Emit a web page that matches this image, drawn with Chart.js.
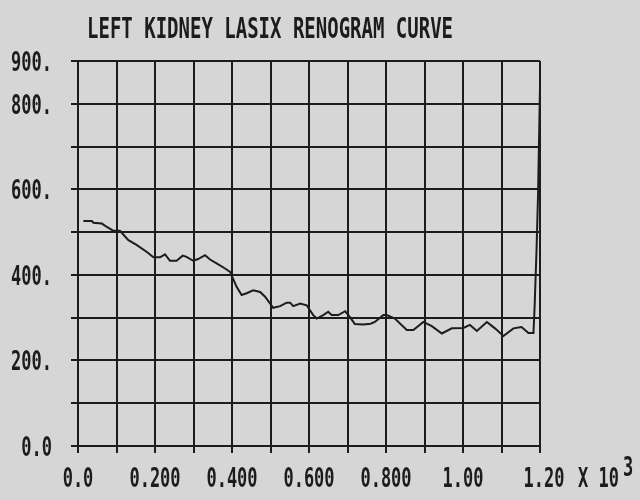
<!DOCTYPE html>
<html>
<head>
<meta charset="utf-8">
<script src="https://cdn.jsdelivr.net/npm/chart.js@4.4.1/dist/chart.umd.min.js"></script>
<style>
  html, body { margin: 0; padding: 0; background: #d6d6d6; }
  #wrap { width: 640px; height: 500px; position: relative; }
</style>
</head>
<body>
<div id="wrap"><canvas id="renogram"></canvas></div>
<script>
// time (s) and counts
const timeSec = [14, 36, 40, 62, 75, 92, 109, 131, 152, 178, 196, 213, 226, 239, 256, 272, 282, 299, 312, 330,
  343, 360, 382, 395, 412, 425, 438, 455, 473, 486, 507, 525, 542, 551, 559, 577, 594, 611, 620, 637,
  650, 659, 676, 694, 706, 719, 740, 760, 771, 793, 802, 823, 854, 871, 897, 919, 945, 971, 1001, 1018,
  1036, 1062, 1083, 1105, 1131, 1152, 1170, 1183, 1186, 1191, 1195, 1200];
const counts = [526, 526, 522, 520, 512, 503, 503, 481, 470, 454, 441, 441, 448, 433, 433, 445, 442, 433, 437, 446,
  436, 427, 415, 407, 372, 353, 357, 364, 360, 349, 323, 327, 335, 335, 327, 333, 329, 306, 298, 306,
  314, 306, 306, 315, 302, 285, 284, 286, 290, 306, 306, 298, 271, 271, 290, 280, 263, 275, 276, 283,
  269, 290, 275, 257, 275, 278, 264, 264, 325, 458, 591, 839];

const xLabelValues = [0, 200, 400, 600, 800, 1000, 1200];
const xLabels = ['0.0', '0.200', '0.400', '0.600', '0.800', '1.00', '1.20'];
const yLabelValues = [0, 200, 400, 600, 800, 900];
const yLabels = ['0.0', '200.', '400.', '600.', '800.', '900.'];

const titleText = 'LEFT KIDNEY LASIX RENOGRAM CURVE';
const ink = '#1c1c1c';
const FONT = '"DejaVu Sans Mono", monospace';

// tall, narrow plotter-style text
function tallText(ctx, text, x, cy, size, sy, align) {
    ctx.save();
    ctx.font = 'bold ' + size + 'px ' + FONT;
    ctx.fillStyle = ink;
    ctx.textAlign = align;
    ctx.textBaseline = 'alphabetic';
    ctx.translate(x, cy + 0.729 * size * sy / 2);
    ctx.scale(1, sy);
    ctx.fillText(text, 0, 0);
    ctx.restore();
}

const labelsPlugin = {
    id: 'plotterText',
    afterDraw(chart) {
        const ctx = chart.ctx;
        const xs = chart.scales.x, ys = chart.scales.y;

        tallText(ctx, titleText, 87, 27.5, 19, 1.5, 'left');

        yLabelValues.forEach((v, i) => {
            tallText(ctx, yLabels[i], 52, ys.getPixelForValue(v), 17, 1.6, 'right');
        });
        xLabelValues.forEach((v, i) => {
            tallText(ctx, xLabels[i], xs.getPixelForValue(v) + (i === 6 ? 4 : 0), 477, 17, 1.6, 'center');
        });
        tallText(ctx, 'X 10', 578, 477, 17, 1.6, 'left');
        tallText(ctx, '3', 623, 466, 17, 1.6, 'left');
    }
};

const gridStyle = { color: ink, lineWidth: 2, drawTicks: true, tickLength: 7 };

new Chart(document.getElementById('renogram'), {
    type: 'scatter',
    data: {
        datasets: [{
            data: timeSec.map((t, i) => ({ x: t, y: counts[i] })),
            showLine: true,
            borderColor: ink,
            borderWidth: 2,
            pointRadius: 0,
            tension: 0
        }]
    },
    options: {
        responsive: true,
        maintainAspectRatio: false,
        animation: false,
        layout: { padding: { top: 61, right: 100, left: 0, bottom: 0 } },
        plugins: { legend: { display: false }, tooltip: { enabled: false }, title: { display: false } },
        scales: {
            x: {
                type: 'linear', min: 0, max: 1200,
                ticks: { stepSize: 100, display: false },
                grid: gridStyle,
                border: { display: true, color: ink, width: 2 },
                afterFit(s) { s.height = 54; }
            },
            y: {
                min: 0, max: 900,
                ticks: { stepSize: 100, display: false },
                grid: gridStyle,
                border: { display: true, color: ink, width: 2 },
                afterFit(s) { s.width = 78; }
            }
        }
    },
    plugins: [labelsPlugin]
});
</script>
</body>
</html>
